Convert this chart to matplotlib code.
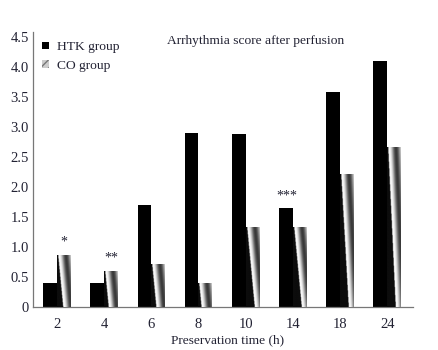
import numpy as np
import matplotlib.pyplot as plt
from matplotlib.patches import Patch

# Data
times = ['2', '4', '6', '8', '10', '14', '18', '24']
htk = [0.4, 0.4, 1.7, 2.9, 2.87, 1.64, 3.58, 4.09]
co = [0.86, 0.6, 0.71, 0.4, 1.32, 1.32, 2.21, 2.66]
marks = ['*', '**', '', '', '', '***', '', '']

plt.rcParams['font.family'] = ['Liberation Serif', 'DejaVu Serif']
txt = '#222233'

fig = plt.figure(figsize=(4.39, 3.5), dpi=100)
ax = fig.add_axes([0.075, 0.124, 0.866, 0.785])

x = np.arange(len(times))
w = 0.29
ax.bar(x - w / 2, htk, w, color='black', zorder=2)
co_bars = ax.bar(x + w / 2, co, w, color='#999999', zorder=2)

# gradient stripe texture for the CO bars
nx, ny = 40, 120
xi, yi = np.meshgrid(np.linspace(0, 1, nx), np.linspace(1, 0, ny))
for b in co_bars:
    x0, h = b.get_x(), b.get_height()
    u = xi - 0.55 * (1 - yi) * min(1.0, h / 1.3)
    val = 0.6 + 0.38 * np.sin(2 * np.pi * (u + 0.1))
    val = np.where(u < 0.08, 0.05, val)
    im = ax.imshow(val, cmap='gray', vmin=0, vmax=1, extent=(x0, x0 + w, 0, h),
                   aspect='auto', interpolation='bilinear', zorder=3)
    im.set_clip_path(b)

for i, m in enumerate(marks):
    if m:
        xp = i + w / 2 if len(m) < 3 else i - 0.12
        top = co[i] if len(m) < 3 else htk[i]
        ax.text(xp, top + 0.1, m, ha='center', va='bottom', fontsize=10, color=txt)

ax.set_xlim(-0.51, 7.55)
ax.set_ylim(0, 4.58)
ax.set_xticks(x)
ax.set_xticklabels(times)
yt = np.arange(0, 4.6, 0.5)
ax.set_yticks(yt)
ax.set_yticklabels(['0'] + ['%.1f' % v for v in yt[1:]])
ax.tick_params(length=0, labelsize=10.5, colors=txt)
ax.tick_params(axis='y', pad=3)
ax.tick_params(axis='x', pad=8)
for s in ['top', 'right']:
    ax.spines[s].set_visible(False)
for s in ['left', 'bottom']:
    ax.spines[s].set_color('#777777')
    ax.spines[s].set_linewidth(0.9)

handles = [Patch(facecolor='black', label='HTK group'),
           Patch(facecolor='#cccccc', hatch='////', edgecolor='#777777', lw=0, label='CO group')]
ax.legend(handles=handles, loc='upper left', bbox_to_anchor=(0.0, 1.0), frameon=False,
          fontsize=9.7, handlelength=0.5, handleheight=0.5, handletextpad=0.6,
          labelspacing=0.5, borderaxespad=0.3, labelcolor=txt)

fig.text(0.583, 0.883, 'Arrhythmia score after perfusion', ha='center', va='center',
         fontsize=9.7, color=txt)
fig.text(0.518, 0.029, 'Preservation time (h)', ha='center', va='center',
         fontsize=9.6, color=txt)

fig.savefig('out.png', dpi=100)
